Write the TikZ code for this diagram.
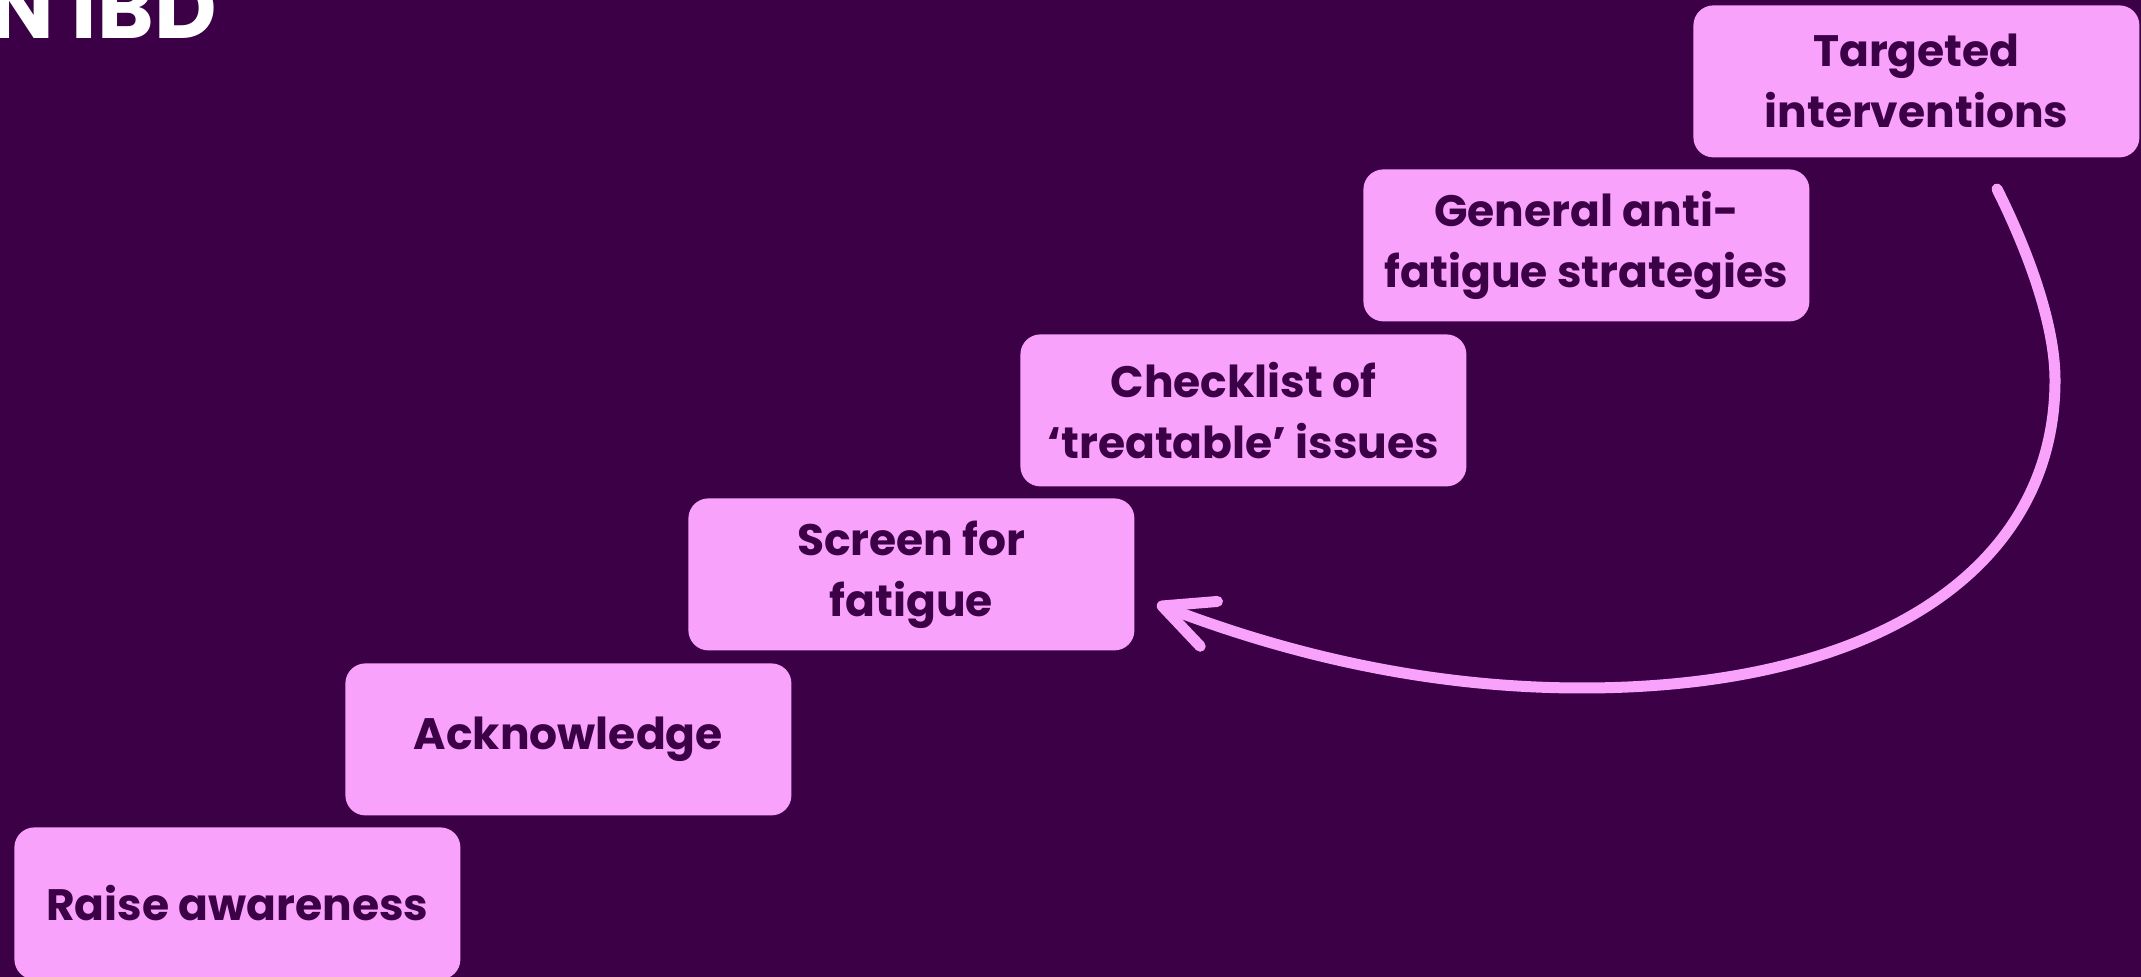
\documentclass[tikz,border=0pt]{standalone}
\usepackage{fontspec}
\setmainfont{Poppins}
\usetikzlibrary{arrows.meta}
\definecolor{bg}{HTML}{3B0046}
\definecolor{pinkbox}{HTML}{F9A2FC}
\begin{document}
\begin{tikzpicture}[x=0.5pt,y=-0.5pt,
  stepbox/.style={fill=pinkbox, rounded corners=10pt, minimum width=223pt, minimum height=76pt,
    anchor=north west, align=center, text=bg, inner sep=0pt,
    font=\bfseries\fontsize{22}{30.5}\selectfont},
  titletext/.style={anchor=base east, inner sep=0pt, text=white,
    font=\bfseries\fontsize{43}{43}\selectfont},
  curvearrow/.style={draw=pinkbox, line width=5.5pt, line cap=round,
    -{Straight Barb[length=25pt, width=24pt, round]}}]
\fill[bg] (0,0) rectangle (2141,977);
\useasboundingbox (0,0) rectangle (2141,977);
\clip (0,0) rectangle (2141,977);
\node[titletext] (title) at (217,39) {N IBD};
\node[stepbox] (s1) at (14,827) {Raise awareness};
\node[stepbox] (s2) at (345,663) {Acknowledge};
\node[stepbox] (s3) at (688,498) {Screen for\\fatigue};
\node[stepbox] (s4) at (1020,334) {Checklist of\\‘treatable’ issues};
\node[stepbox] (s5) at (1363,169) {General anti-\\fatigue strategies};
\node[stepbox] (s6) at (1693,5) {Targeted\\interventions};
\coordinate (start) at (1997,189);
\coordinate (tip) at (1157,604);
\draw[curvearrow] (start) .. controls (2024,243) and (2055,320) .. (2055,380)
  .. controls (2055,570) and (1875,688) .. (1582,688)
  .. controls (1430,688) and (1290,655) .. (tip);
\end{tikzpicture}
\end{document}
